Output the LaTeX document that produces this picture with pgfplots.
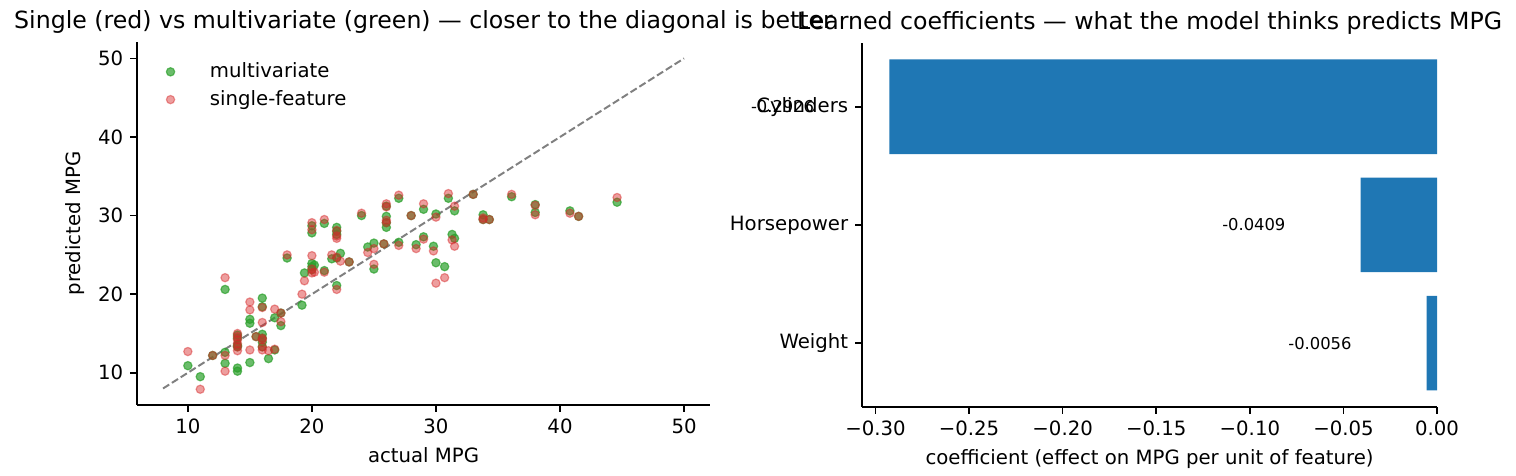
\documentclass[border=0pt]{standalone}
\usepackage{fontspec}
\setmainfont{DejaVu Sans}
\usepackage{pgfplots}
\pgfplotsset{compat=1.18}
\definecolor{tabgreen}{HTML}{2CA02C}
\definecolor{tabred}{HTML}{D62728}
\definecolor{tabblue}{HTML}{1F77B4}
\pgfplotsset{
  common/.style={
    scale only axis,
    axis lines=left,
    axis line style={-, line width=0.8pt},
    tick align=outside,
    major tick length=3.5pt,
    tick style={black, line width=0.8pt},
    /pgf/number format/assume math mode=true,
    tick label style={font=\fontsize{10}{12}\selectfont},
    label style={font=\fontsize{10}{12}\selectfont},
    title style={font=\fontsize{12}{14}\selectfont, yshift=-5pt},
  }
}
\begin{document}
\begin{tikzpicture}[x=1pt,y=1pt]
\useasboundingbox (0,0) rectangle (769.5,241.6);
\begin{axis}[
  common,
  at={(69.54pt,36.04pt)}, anchor=south west,
  width=290.9pt, height=184.3pt,
  xmin=5.9, xmax=52.1, ymin=5.9, ymax=52.1,
  xtick={10,20,30,40,50}, ytick={10,20,30,40,50},
  xlabel={actual MPG}, ylabel={predicted MPG},
  title={Single (red) vs multivariate (green) — closer to the diagonal is better},
  legend style={draw=none, fill=none, at={(0.02,0.965)}, anchor=north west,
    font=\fontsize{10}{12}\selectfont, row sep=1pt},
  legend cell align=left,
  legend image code/.code={\path (0pt,0pt) -- (26pt,0pt); \path[#1] plot coordinates {(8pt,0pt)};},
]
\addplot[draw=none, only marks, mark=*, mark size=2.1pt,
  mark options={draw=tabgreen, fill=tabgreen, opacity=0.7, line width=0.6pt}]
coordinates {
(10,10.9) (11,9.5) (12,12.2)
(13,20.6) (13,12.6) (13,11.2)
(14,14.8) (14,14.4) (14,13.5) (14,13.3) (14,10.6) (14,10.2)
(15,16.8) (15,16.3) (15,11.3)
(15.5,14.6)
(16,19.5) (16,18.4) (16,14.9) (16,14.4) (16,13.9) (16,13.3)
(16.5,11.8)
(17,17.0) (17,12.9)
(17.5,17.6) (17.5,16.0)
(18,24.6)
(19.2,18.6) (19.4,22.7)
(20,28.7) (20,27.8) (20,23.9) (20,23.5) (20,23.1)
(20.2,23.7)
(21,29.0) (21,23.0)
(21.6,24.5)
(22,28.5) (22,28.0) (22,27.6) (22,24.6) (22,21.1)
(22.3,25.2)
(23,24.1)
(24,30.0)
(24.5,26.0)
(25,26.5) (25,23.2)
(25.8,26.4)
(26,31.2) (26,29.9) (26,29.1) (26,28.5)
(27,32.2) (27,26.6)
(28,30.0)
(28.4,26.3)
(29,30.8) (29,27.3)
(29.8,26.1)
(30,30.2) (30,24.0)
(30.7,23.5)
(31,32.2)
(31.3,27.6)
(31.5,30.6) (31.5,27.1)
(33,32.7)
(33.8,30.1) (33.8,29.5)
(34.3,29.5)
(36.1,32.4)
(38,31.4) (38,30.4)
(40.8,30.6)
(41.5,29.9)
(44.6,31.7)
};
\addlegendentry{multivariate}
\addplot[draw=none, only marks, mark=*, mark size=2.1pt,
  mark options={draw=tabred, fill=tabred, opacity=0.45, line width=0.6pt}]
coordinates {
(10,12.7) (11,7.9) (12,12.2)
(13,22.1) (13,12.2) (13,10.2)
(14,15.0) (14,14.6) (14,14.2) (14,13.7) (14,13.3) (14,12.8)
(15,19.0) (15,18.0) (15,12.9)
(15.5,14.6)
(16,18.3) (16,16.4) (16,14.4) (16,14.2) (16,13.3) (16,12.9)
(16.5,12.8)
(17,18.1) (17,13.0)
(17.5,17.6) (17.5,16.5)
(18,25.0)
(19.2,20.0) (19.4,21.7)
(20,29.1) (20,28.2) (20,24.9) (20,23.2) (20,22.7)
(20.2,22.8)
(21,29.5) (21,22.8)
(21.6,25.0)
(22,28.1) (22,27.4) (22,27.1) (22,24.7) (22,20.6)
(22.3,24.2)
(23,24.1)
(24,30.3)
(24.5,25.3)
(25,25.8) (25,23.8)
(25.8,26.4)
(26,31.5) (26,31.1) (26,29.4) (26,29.1)
(27,32.6) (27,26.2)
(28,30.0)
(28.4,25.8)
(29,31.5) (29,27.0)
(29.8,25.5)
(30,29.8) (30,21.4)
(30.7,22.1)
(31,32.8)
(31.3,26.9)
(31.5,31.2) (31.5,26.1)
(33,32.7)
(33.8,29.7) (33.8,29.5)
(34.3,29.5)
(36.1,32.7)
(38,31.3) (38,30.1)
(40.8,30.3)
(41.5,29.9)
(44.6,32.3)
};
\addlegendentry{single-feature}
\addplot[gray, line width=1pt, dash pattern=on 3.7pt off 1.6pt, forget plot]
coordinates {(8,8) (50,50)};
\end{axis}

\begin{axis}[
  common,
  at={(437.55pt,35.02pt)}, anchor=south west,
  width=291.9pt, height=184.8pt,
  xmin=-0.30717, xmax=0, ymin=-0.54, ymax=2.54,
  xtick={-0.30,-0.25,-0.20,-0.15,-0.10,-0.05,0},
  xticklabels={−0.30,−0.25,−0.20,−0.15,−0.10,−0.05,0.00},
  ytick={0,1,2}, yticklabels={Weight,Horsepower,Cylinders},
  clip=false,
  xlabel={coefficient (effect on MPG per unit of feature)},
  title={Learned coefficients — what the model thinks predicts MPG},
]
\addplot[xbar, bar width=0.8, fill=tabblue, draw=none]
coordinates {(-0.0056,0) (-0.0409,1) (-0.2926,2)};
\addplot[draw=none, mark=none, nodes near coords, point meta=explicit symbolic,
  nodes near coords style={anchor=center, font=\fontsize{8.3}{10}\selectfont, inner sep=0pt}]
coordinates {(-0.3496,2) [-0.2926] (-0.0979,1) [-0.0409] (-0.0626,0) [-0.0056]};
\end{axis}
\end{tikzpicture}
\end{document}
